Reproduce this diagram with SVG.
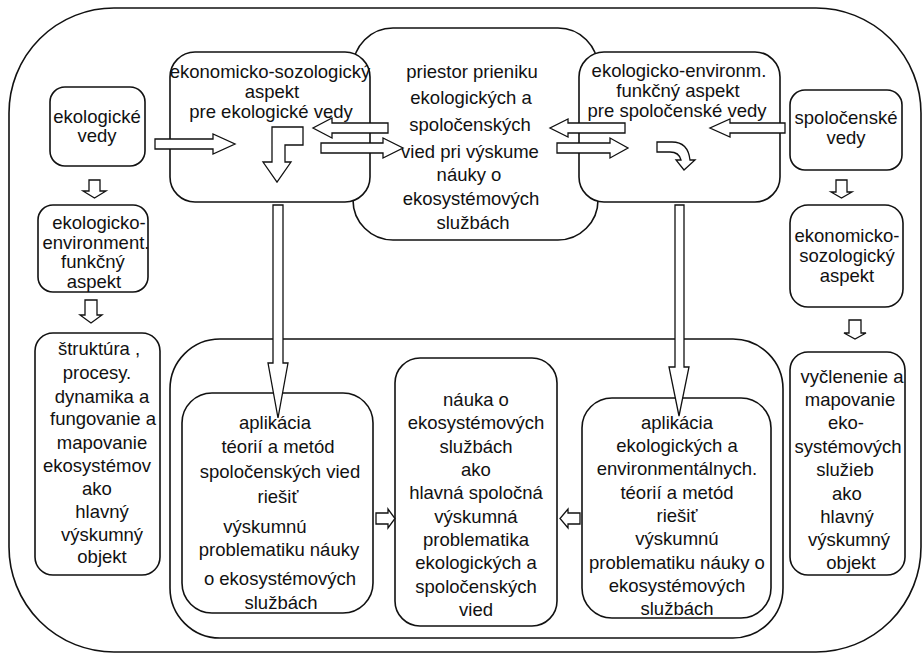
<svg xmlns="http://www.w3.org/2000/svg" width="922" height="653" viewBox="0 0 922 653">
<style>
.box{fill:#fff;stroke:#111;stroke-width:1.6}
.frame{fill:none;stroke:#111;stroke-width:1.6}
.arr{fill:#fff;stroke:#111;stroke-width:1.3;stroke-linejoin:miter}
text{font-family:"Liberation Sans",Arial,sans-serif;font-size:18.5px;fill:#111;text-anchor:middle}
</style>
<rect width="922" height="653" fill="#fff"/>
<rect class="frame" x="9" y="8" width="912" height="644" rx="105"/>
<g id="bottom-container"><rect class="frame" x="170" y="339" width="613" height="299" rx="50"/></g>
<g id="center-box">
<rect class="box" x="353" y="28" width="245" height="212" rx="40"/>
<text x="472" y="78">priestor prieniku</text>
<text x="471" y="104">ekologických a</text>
<text x="470" y="131">spoločenských</text>
<text x="470" y="158">vied pri výskume</text>
<text x="469" y="181">náuky o</text>
<text x="471" y="205">ekosystémových</text>
<text x="473" y="229">službách</text>
</g>
<g id="box-a">
<rect class="box" x="170" y="52" width="200" height="150" rx="25"/>
<text x="270" y="78">ekonomicko-sozologický</text>
<text x="272" y="98">aspekt</text>
<text x="271" y="118">pre ekologické vedy</text>
</g>
<g id="box-c">
<rect class="box" x="579" y="52" width="201" height="150" rx="25"/>
<text x="679" y="77">ekologicko-environm.</text>
<text x="678" y="97">funkčný aspekt</text>
<text x="677" y="117">pre spoločenské vedy</text>
</g>
<g id="ekologicke-vedy">
<rect class="box" x="50" y="87" width="95" height="79" rx="15"/>
<text x="97" y="123">ekologické</text>
<text x="97" y="142">vedy</text>
</g>
<g id="ekologicko-environment">
<rect class="box" x="38" y="205" width="110" height="87" rx="15"/>
<text x="99" y="229">ekologicko-</text>
<text x="96" y="249">environment.</text>
<text x="93" y="268">funkčný</text>
<text x="94" y="288">aspekt</text>
</g>
<g id="struktura">
<rect class="box" x="35" y="333" width="125" height="242" rx="18"/>
<text x="99" y="355">štruktúra ,</text>
<text x="97" y="379">procesy.</text>
<text x="102" y="403">dynamika a</text>
<text x="103" y="425">fungovanie a</text>
<text x="102" y="449">mapovanie</text>
<text x="97" y="472">ekosystémov</text>
<text x="97" y="495">ako</text>
<text x="102" y="518">hlavný</text>
<text x="102" y="541">výskumný</text>
<text x="102" y="563">objekt</text>
</g>
<g id="spolocenske-vedy">
<rect class="box" x="790" y="90" width="112" height="80" rx="15"/>
<text x="846" y="124">spoločenské</text>
<text x="846" y="144">vedy</text>
</g>
<g id="ekonomicko-sozologicky">
<rect class="box" x="790" y="205" width="113" height="102" rx="18"/>
<text x="847" y="242">ekonomicko-</text>
<text x="847" y="262">sozologický</text>
<text x="847" y="282">aspekt</text>
</g>
<g id="vyclenenie">
<rect class="box" x="790" y="352" width="115" height="223" rx="18"/>
<text x="852" y="383">vyčlenenie a</text>
<text x="850" y="406">mapovanie</text>
<text x="846" y="429">eko-</text>
<text x="848" y="453">systémových</text>
<text x="845" y="476">služieb</text>
<text x="847" y="500">ako</text>
<text x="847" y="523">hlavný</text>
<text x="849" y="546">výskumný</text>
<text x="851" y="569">objekt</text>
</g>
<g id="box-l">
<rect class="box" x="182" y="393" width="191" height="220" rx="30"/>
<text x="275" y="429">aplikácia</text>
<text x="278" y="453">téorií a metód</text>
<text x="280" y="478">spoločenských vied</text>
<text x="278" y="503">riešiť</text>
<text x="265" y="533">výskumnú</text>
<text x="279" y="556">problematiku náuky</text>
<text x="280" y="585">o ekosystémových</text>
<text x="281" y="609">službách</text>
</g>
<g id="box-m">
<rect class="box" x="395" y="358" width="162" height="268" rx="25"/>
<text x="476" y="406">náuka o</text>
<text x="476" y="429">ekosystémových</text>
<text x="476" y="453">službách</text>
<text x="476" y="476">ako</text>
<text x="476" y="499">hlavná spoločná</text>
<text x="476" y="523">výskumná</text>
<text x="476" y="546">problematika</text>
<text x="476" y="569">ekologických a</text>
<text x="476" y="593">spoločenských</text>
<text x="476" y="616">vied</text>
</g>
<g id="box-r">
<rect class="box" x="582" y="398" width="189" height="220" rx="30"/>
<text x="677" y="429">aplikácia</text>
<text x="677" y="452">ekologických a</text>
<text x="677" y="475">environmentálnych.</text>
<text x="677" y="499">téorií a metód</text>
<text x="677" y="522">riešiť</text>
<text x="677" y="545">výskumnú</text>
<text x="677" y="569">problematiku náuky o</text>
<text x="677" y="592">ekosystémových</text>
<text x="677" y="615">službách</text>
</g>
<g id="connectors">
<polygon class="arr" points="155,139 213,139 213,134 235,144 213,154 213,149 155,149"/>
<polygon class="arr" points="388,123 332,123 332,118 313,128 332,138 332,133 388,133"/>
<polygon class="arr" points="321,143 383,143 383,138 403,148 383,158 383,153 321,153"/>
<polygon class="arr" points="625,123 568,123 568,119 550,128 568,137 568,133 625,133"/>
<polygon class="arr" points="557,143 610,143 610,138 628,148 610,158 610,153 557,153"/>
<polygon class="arr" points="785,123 730,123 730,119 710,128 730,137 730,133 785,133"/>
<polygon class="arr" points="272,127 303,127 303,145 285,145 285,162 291,162 277,182 263,162 272,162"/>
<path class="arr" d="M657,142 L672,142 Q688,142 690,160 L695,160 L684,170 L676,160 L681,160 Q679,152 670,152 L657,152 Z"/>
<polygon class="arr" points="273,205 283,205 283,363 288,363 278,418 268,363 273,363"/>
<polygon class="arr" points="675,205 684,205 684,367 689,367 679,416 669,367 675,367"/>
<polygon class="arr" points="89,180 100,180 100,191 106,191 94.5,198 83,191 89,191"/>
<polygon class="arr" points="85,300 97,300 97,315 102,315 91,323 80,315 85,315"/>
<polygon class="arr" points="836,180 847,180 847,192 852,192 841.5,198 831,192 836,192"/>
<polygon class="arr" points="849,320 861,320 861,333 866,333 855,339 844,333 849,333"/>
<polygon class="arr" points="376,513 388,513 388,509 395,518.5 388,528 388,524 376,524"/>
<polygon class="arr" points="580,513 568,513 568,509 560,518.5 568,528 568,524 580,524"/>
</g>
</svg>
